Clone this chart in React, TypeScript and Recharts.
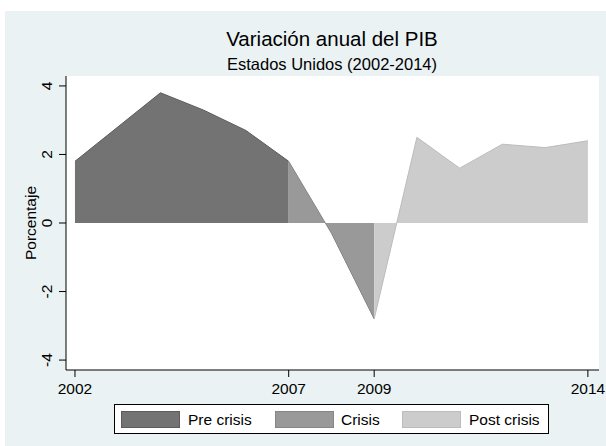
import React from 'react';
import { ComposedChart, Area, XAxis, YAxis, CartesianGrid } from 'recharts';

const years = [2002, 2003, 2004, 2005, 2006, 2007, 2008, 2009, 2010, 2011, 2012, 2013, 2014];
const preCrisis = [1.8, 2.8, 3.8, 3.3, 2.7, 1.8, null, null, null, null, null, null, null];
const crisis = [null, null, null, null, null, 1.8, -0.3, -2.8, null, null, null, null, null];
const postCrisis = [null, null, null, null, null, null, null, -2.8, 2.5, 1.6, 2.3, 2.2, 2.4];
const xTicks = [2002, 2007, 2009, 2014];
const yTicks = [-4, -2, 0, 2, 4];

const series = [
    { key: 'pre', name: 'Pre crisis', fill: '#737373', stroke: '#5c5c5c' },
    { key: 'crisis', name: 'Crisis', fill: '#999999', stroke: '#868686' },
    { key: 'post', name: 'Post crisis', fill: '#cccccc', stroke: '#bcbcbc' },
];

const data = years.map((year, i) => ({
    year,
    pre: preCrisis[i],
    crisis: crisis[i],
    post: postCrisis[i],
}));

const FONT = '"Liberation Sans", Arial, sans-serif';

const YTick = ({ y, payload }: any) => (
    <text
        x={52}
        y={y}
        transform={`rotate(-90 52 ${y})`}
        textAnchor="middle"
        fontSize={15.5}
        fontFamily={FONT}
        fill="#000"
    >
        {payload.value}
    </text>
);

const XTick = ({ x, y, payload }: any) => (
    <text x={x} y={394} textAnchor="middle" fontSize={15.5} fontFamily={FONT} fill="#000">
        {payload.value}
    </text>
);

// legend layout (swatch left, text left)
const legendItems = [
    { sw: 121, tx: 188 },
    { sw: 275, tx: 341 },
    { sw: 402, tx: 469 },
];

export default function App() {
    return (
        <div style={{ position: 'absolute', left: 0, top: 0, width: 606, height: 446, background: '#fff' }}>
            <div style={{ position: 'absolute', left: 5, top: 11, width: 601, height: 435, background: '#eaf2f3' }} />
            <div style={{ position: 'absolute', left: 0, top: 0 }}>
                <ComposedChart
                    width={606}
                    height={446}
                    data={data}
                    margin={{ top: 76, right: 7, bottom: 46, left: 36 }}
                >
                    <CartesianGrid fill="#ffffff" horizontal={false} vertical={false} />
                    <XAxis
                        dataKey="year"
                        type="number"
                        domain={[2001.79, 2014.26]}
                        ticks={xTicks}
                        allowDataOverflow
                        height={30}
                        tickSize={7}
                        stroke="#000"
                        tick={<XTick />}
                    />
                    <YAxis
                        type="number"
                        domain={[-4.29, 4.29]}
                        ticks={yTicks}
                        allowDataOverflow
                        width={30}
                        tickSize={7}
                        stroke="#000"
                        tick={<YTick />}
                    />
                    {series.map((s) => (
                        <Area
                            key={s.key}
                            dataKey={s.key}
                            name={s.name}
                            type="linear"
                            baseValue={0}
                            fill={s.fill}
                            fillOpacity={1}
                            stroke={s.stroke}
                            strokeWidth={1}
                            dot={false}
                            activeDot={false}
                            isAnimationActive={false}
                        />
                    ))}
                </ComposedChart>
            </div>
            <svg width={606} height={446} style={{ position: 'absolute', left: 0, top: 0, pointerEvents: 'none' }}>
                <text x={332} y={46} textAnchor="middle" fontSize={20.5} fontFamily={FONT} fill="#000">
                    Variación anual del PIB
                </text>
                <text x={332} y={70} textAnchor="middle" fontSize={16.5} fontFamily={FONT} fill="#000">
                    Estados Unidos (2002-2014)
                </text>
                <text
                    x={36}
                    y={223}
                    transform="rotate(-90 36 223)"
                    textAnchor="middle"
                    fontSize={15.5}
                    fontFamily={FONT}
                    fill="#000"
                >
                    Porcentaje
                </text>
                <rect x={114.5} y={404.5} width={434} height={29} fill="#fff" stroke="#000" strokeWidth={1} />
                {series.map((s, i) => (
                    <g key={s.key}>
                        <rect
                            x={legendItems[i].sw + 0.5}
                            y={411.5}
                            width={58}
                            height={16}
                            fill={s.fill}
                            stroke={s.stroke}
                        />
                        <text x={legendItems[i].tx} y={425} fontSize={15.5} fontFamily={FONT} fill="#000">
                            {s.name}
                        </text>
                    </g>
                ))}
            </svg>
        </div>
    );
}
